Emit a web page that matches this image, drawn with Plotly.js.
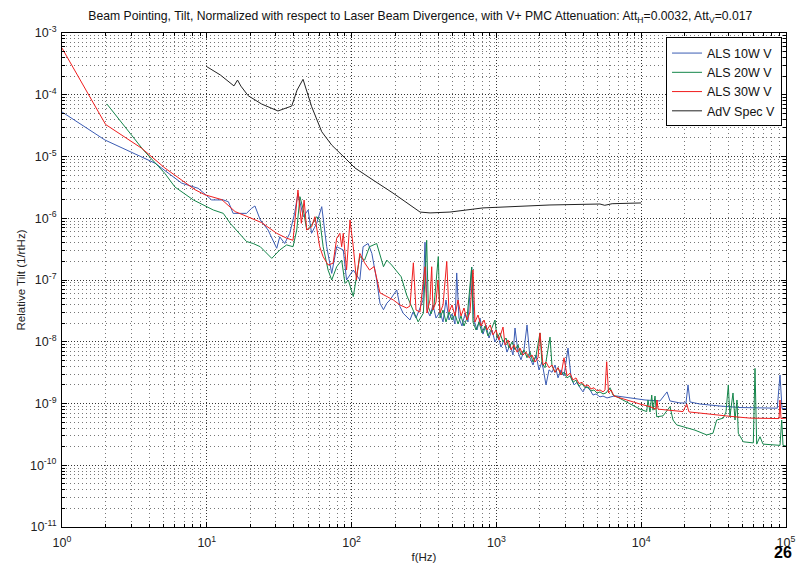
<!DOCTYPE html>
<html><head><meta charset="utf-8">
<script src="https://cdn.plot.ly/plotly-3.0.1.min.js"></script>
<style>html,body{margin:0;padding:0;background:#fff;} #chart{width:796px;height:563px;}</style>
</head><body><div id="chart"></div>
<script>
// ALS 10W V (blue)
const als10F = [1, 1.98, 4.39, 6.71, 8.73, 10.8, 13.0, 14.1, 15.2, 18.8, 20.4, 21.5, 23.4, 26.5, 30.4, 31.9, 34.5, 37.4, 40.4, 42.6, 46.4, 50.1, 52.9, 57.4, 62.2, 67.3, 72.9, 78.9, 87.6, 92.3, 102.7, 114, 120, 130, 138, 149, 157, 166, 175, 184, 205, 216, 227, 253,
  265.5, 278.5, 296.8, 311.3, 321.3, 331.7, 347.8, 364.9, 382.7, 407.9, 427.9, 448.6, 470.7, 493.6, 517.7, 531.9, 551.6, 578.6, 606.8, 636.7, 675.2, 700.4, 734.5, 770.2, 808, 847.5, 888.9, 932.4, 977.9, 1026, 1076, 1129, 1184, 1241, 1302, 1344, 1410, 1479, 1551, 1627, 1706, 1790, 1877, 1969, 2065, 2201, 2309, 2421, 2540, 2664, 2794, 2931, 3123, 3276, 3435, 3603, 3779, 3964, 4158, 4431, 4647, 4874, 5194, 5448, 5805, 6088, 6490,
  6807, 8370, 10620, 13490, 15080, 15810, 18530, 20390, 21050, 21730, 25480, 35010, 48120, 66120, 87000, 90920, 93850, 100000];
const als10V = [5.26e-5, 1.85e-5, 7.8e-6, 3.7e-6, 3.05e-6, 1.98e-6, 1.98e-6, 1.85e-6, 1.2e-6, 1.2e-6, 1.45e-6, 1.58e-6, 9.4e-7, 6.45e-7, 3.26e-7, 5.0e-7, 3.9e-7, 5.7e-7, 1.2e-6, 2.54e-6, 1.06e-6, 1.36e-6, 5.7e-7, 8.3e-7, 1.54e-6, 3.46e-7, 1.28e-7, 3.46e-7, 3.06e-7, 1.0e-7, 1.45e-7, 1.0e-7, 3.46e-7, 3.9e-7, 2.7e-7, 1.0e-7, 4.2e-8, 3.3e-8, 4.2e-8, 4.75e-8, 6.9e-8, 3.7e-8, 2.9e-8, 2.25e-8,
  3.03e-8, 2.42e-8, 3.52e-8, 4.75e-8, 4.1e-7, 3.27e-8, 2.61e-8, 3.94e-8, 2.42e-8, 3.03e-8, 2.09e-8, 4.75e-8, 2.25e-8, 2.82e-8, 1.94e-8, 1.3e-7, 2.42e-8, 1.8e-8, 2.82e-8, 2.09e-8, 1.62e-7, 2.25e-8, 1.55e-8, 2.42e-8, 1.33e-8, 1.87e-8, 1.15e-8, 1.55e-8, 0.99e-8, 1.24e-8, 8.2e-9, 1.07e-8, 6.8e-9, 8.9e-9, 6.1e-9, 1.67e-8, 6.8e-9, 5.1e-9, 7.4e-9, 1.87e-8, 5.5e-9, 4.2e-9, 6.1e-9, 3.5e-9, 4.7e-9, 2.0e-9, 3.5e-9, 3.2e-9, 4.2e-9, 2.6e-9, 3.5e-9, 2.8e-9, 7.9e-9, 2.7e-9, 2.0e-9, 2.2e-9, 1.8e-9, 1.54e-9, 1.9e-9, 1.66e-9, 1.37e-9, 1.43e-9, 1.28e-9, 1.32e-9, 1.23e-9, 1.28e-9, 1.32e-9,
  1.32e-9, 1.23e-9, 1.14e-9, 1.10e-9, 1.54e-9, 1.10e-9, 1.02e-9, 1.02e-9, 2.0e-9, 1.06e-9, 9.8e-10, 9.1e-10, 8.6e-10, 8.5e-10, 8.4e-10, 2.9e-9, 8.3e-10, 8.3e-10];

// ALS 20W V (green)
const als20F = [2.04, 3.64, 5.14, 6.03, 8.07, 11.1, 13.0, 14.5, 18.8, 20.9, 23.4, 28.1, 31.9, 35.6, 39.4, 41.8, 44.0, 46.4, 49.0, 52.9, 57.4, 60.3, 63.6, 68.8, 72.9, 78.9, 85.4, 90.0, 94.9, 102.7, 114, 123, 133, 149, 166, 175, 189, 205, 220, 240, 267, 288, 313,
  330, 338.7, 353.5, 370.8, 397, 407.9, 427.9, 448.6, 470.7, 493.6, 517.7, 543, 569.5, 597.5, 626.6, 675.2, 689.3, 723.1, 758.5, 795.5, 834.2, 875, 917.8, 977.9, 1010, 1059, 1111, 1165, 1222, 1281, 1344, 1410, 1479, 1551, 1627, 1706, 1790, 1877, 2000, 2065, 2166, 2346, 2421, 2540, 2664, 2794, 2931, 3074, 3225, 3381, 3545, 3718, 3901, 4092, 4292, 4501, 4721, 4953, 5194, 5448, 5713, 6088, 6387, 6807,
  8370, 9810, 10910, 11140, 11500, 11820, 12070, 12460, 12800, 14150, 15810, 16590, 17590, 19440, 23530, 28340, 31320, 33220, 36900, 38510, 39960, 41000, 43050, 44440, 45870, 46840, 50720, 59470, 61090, 62760, 66120, 69370, 90920, 93390, 95350, 100000];
const als20V = [7.1e-5, 1.28e-5, 5.3e-6, 3.2e-6, 1.98e-6, 1.36e-6, 1.2e-6, 8.3e-7, 4.2e-7, 3.9e-7, 3.46e-7, 2.24e-7, 3.06e-7, 3.7e-7, 3.46e-7, 6.45e-7, 2.23e-6, 1.36e-6, 6.45e-7, 7.8e-7, 1.06e-6, 9.4e-7, 3.46e-7, 1.45e-7, 1.0e-7, 1.64e-7, 2.1e-7, 8.8e-8, 1.0e-7, 5.4e-8, 2.4e-7, 2.1e-7, 3.46e-7, 3.9e-7, 1.64e-7, 2.1e-7, 1.75e-7, 1.36e-7, 1.13e-7, 5.7e-8, 3.27e-8, 2.1e-8, 2.9e-8,
  4.4e-7, 3.7e-8, 2.82e-8, 3.79e-8, 2.4e-7, 2.42e-8, 3.27e-8, 2.09e-8, 3.03e-8, 2.25e-8, 2.82e-8, 1.94e-8, 2.61e-8, 1.8e-8, 2.42e-8, 1.62e-7, 2.09e-8, 1.55e-8, 2.09e-8, 1.39e-8, 1.8e-8, 1.24e-8, 1.55e-8, 2.25e-8, 1.15e-8, 1.39e-8, 0.99e-8, 1.15e-8, 7.9e-9, 0.99e-8, 7.4e-9, 8.9e-9, 6.1e-9, 7.4e-9, 5.5e-9, 6.8e-9, 4.7e-9, 5.9e-9, 1.39e-8, 4.5e-9, 3.8e-9, 1.19e-8, 4.05e-9, 3.2e-9, 3.8e-9, 2.9e-9, 3.2e-9, 2.6e-9, 2.8e-9, 2.2e-9, 2.4e-9, 1.9e-9, 2.1e-9, 1.8e-9, 1.85e-9, 1.6e-9, 1.66e-9, 1.48e-9, 1.54e-9, 1.43e-9, 1.48e-9, 1.8e-9, 1.37e-9, 1.28e-9,
  9.8e-10, 8.1e-10, 7.4e-10, 1.14e-9, 7.3e-10, 1.37e-9, 7.8e-10, 1.32e-9, 6.1e-10, 6.3e-10, 8.9e-10, 5.4e-10, 4.5e-10, 4.2e-10, 3.7e-10, 3.1e-10, 3.3e-10, 5.4e-10, 5.8e-10, 7.3e-10, 2.0e-9, 6.1e-10, 1.48e-9, 5.4e-10, 1.14e-9, 3.3e-10, 2.4e-10, 2.3e-10, 3.7e-9, 2.2e-10, 2.9e-10, 2.2e-10, 2.1e-10, 5.4e-10, 2.1e-10, 2.05e-10];

// ALS 30W V (red)
const als30F = [1, 2, 3.55, 5.14, 8.29, 9.7, 12.7, 15.7, 19.3, 23.9, 30.4, 35.6, 39.4, 42.6, 45, 47, 49, 53, 55.8, 60.2, 63.5, 68.8, 74.5, 78.9, 83, 85.4, 87.6, 92.3, 97.5, 102.7, 108, 114, 123, 133, 143, 157, 175, 194,
  216, 240, 253, 267, 278.5, 296.8, 306.4, 321.3, 331.7, 347.8, 357.5, 364.9, 382.7, 395.1, 407.9, 427.9, 454, 470.7, 493.6, 517.7, 543, 569.5, 597.5, 626.6, 657.3, 689.3, 711.7, 746.4, 782.9, 821.2, 861.2, 906, 947.3, 993.6, 1042, 1111, 1147, 1203, 1261, 1323, 1388, 1455, 1526, 1601, 1679, 1762, 1848, 1938, 2000, 2098, 2201, 2309, 2421, 2540, 2664, 2794, 2931, 3074, 3225, 3381, 3545, 3718, 3901, 4092, 4292, 4501, 4721, 4953, 5194, 5448, 5623, 5777, 5945, 6186, 6490, 6807,
  8370, 9810, 11500, 12660, 12860, 13070, 15810, 19440, 20620, 21380, 25480, 33220, 41000, 56400, 77500, 89490, 90920, 92380, 100000];
const als30V = [5.7e-4, 3.3e-5, 1.36e-5, 6.5e-6, 2.9e-6, 2.4e-6, 2.0e-6, 1.28e-6, 1.05e-6, 8.5e-7, 5.7e-7, 4.75e-7, 4.4e-7, 2.87e-6, 8.3e-7, 1.97e-6, 6.45e-7, 7.3e-7, 1.06e-6, 3.46e-7, 2.4e-7, 1.75e-7, 1.87e-7, 4.75e-7, 5.7e-7, 3.46e-7, 5.7e-7, 1.45e-7, 9.4e-7, 3.46e-7, 1.0e-7, 2.7e-7, 1.9e-7, 1.45e-7, 1.65e-7, 6.2e-8, 5.4e-8, 4.75e-8,
  3.94e-8, 3.52e-8, 3.79e-8, 1.9e-7, 3.27e-8, 3.03e-8, 6.2e-8, 1.64e-7, 2.92e-8, 4.75e-8, 1.64e-7, 3.27e-8, 4.4e-8, 1.0e-7, 2.92e-8, 3.94e-8, 2.0e-7, 3.03e-8, 3.94e-8, 2.61e-8, 4.75e-8, 2.61e-8, 3.52e-8, 2.25e-8, 3.03e-8, 1.45e-7, 2.09e-8, 2.71e-8, 1.8e-8, 2.25e-8, 1.55e-8, 1.87e-8, 1.29e-8, 1.55e-8, 1.07e-8, 1.73e-8, 8.9e-9, 1.07e-8, 7.4e-9, 8.9e-9, 6.8e-9, 7.9e-9, 6.1e-9, 6.8e-9, 5.5e-9, 6.1e-9, 4.7e-9, 5.5e-9, 1.39e-8, 4.2e-9, 4.7e-9, 3.8e-9, 4.2e-9, 3.2e-9, 3.8e-9, 2.9e-9, 5.5e-9, 2.8e-9, 3.1e-9, 2.4e-9, 2.6e-9, 2.1e-9, 2.2e-9, 1.9e-9, 2.0e-9, 1.72e-9, 1.8e-9, 1.6e-9, 1.66e-9, 1.54e-9, 1.66e-9, 4.75e-9, 1.48e-9, 1.66e-9, 1.32e-9, 1.28e-9,
  1.10e-9, 9.8e-10, 8.9e-10, 8.1e-10, 1.14e-9, 8.1e-10, 7.8e-10, 7.4e-10, 9.8e-10, 7.3e-10, 7.0e-10, 6.5e-10, 6.2e-10, 5.8e-10, 5.7e-10, 5.7e-10, 1.14e-9, 5.7e-10, 5.8e-10];

// AdV Spec V (black)
const advF = [10, 12.4, 15.4, 16.3, 17.2, 19.3, 23.9, 31, 38.6, 42, 46.2, 53, 62.2, 72.9, 90, 105.5, 140.6, 193, 297, 348, 478, 808, 2344, 5190, 5600, 6300, 10000];
const advV = [2.85e-4, 2.09e-4, 1.39e-4, 1.73e-4, 1.38e-4, 9.66e-5, 7.08e-5, 5.46e-5, 6.57e-5, 1.19e-4, 1.78e-4, 6.4e-5, 2.52e-5, 1.53e-5, 9.46e-6, 6.52e-6, 4.16e-6, 2.56e-6, 1.26e-6, 1.22e-6, 1.26e-6, 1.47e-6, 1.64e-6, 1.7e-6, 1.62e-6, 1.72e-6, 1.77e-6];

const seriesNames = ['ALS 10W V', 'ALS 20W V', 'ALS 30W V', 'AdV Spec V'];
const xTickVals = [1, 10, 100, 1000, 10000, 100000];
const xTickText = ['10<sup>0</sup>', '10<sup>1</sup>', '10<sup>2</sup>', '10<sup>3</sup>', '10<sup>4</sup>', '10<sup>5</sup>'];
const yTickVals = [1e-11, 1e-10, 1e-9, 1e-8, 1e-7, 1e-6, 1e-5, 1e-4, 1e-3];
const yTickText = ['10<sup>-11</sup>', '10<sup>-10</sup>', '10<sup>-9</sup>', '10<sup>-8</sup>', '10<sup>-7</sup>', '10<sup>-6</sup>', '10<sup>-5</sup>', '10<sup>-4</sup>', '10<sup>-3</sup>'];

function minorVals(decades) {
  const out = [];
  decades.forEach(d => { for (let m = 2; m <= 9; m++) out.push(m * d); });
  return out;
}

const FONT = 'Liberation Sans, Arial, Helvetica, sans-serif';
const colors = ['#3b5cb4', '#14864a', '#f01e1e', '#222222'];

const traces = [
  {x: als10F, y: als10V, name: seriesNames[0], line: {color: colors[0], width: 1}},
  {x: als20F, y: als20V, name: seriesNames[1], line: {color: colors[1], width: 1}},
  {x: als30F, y: als30V, name: seriesNames[2], line: {color: colors[2], width: 1}},
  {x: advF, y: advV, name: seriesNames[3], line: {color: colors[3], width: 1}}
].map(t => Object.assign({type: 'scatter', mode: 'lines'}, t));

function axis(vals, text, range, minor, title, standoff) {
  return {
    type: 'log', range: range, autorange: false,
    tickmode: 'array', tickvals: vals, ticktext: text,
    showline: true, linecolor: '#000', linewidth: 1, mirror: 'allticks',
    ticks: 'inside', ticklen: 5, tickcolor: '#000', tickwidth: 1,
    ticklabelstandoff: standoff,
    showgrid: true, gridcolor: '#333', griddash: '1px,2px', gridwidth: 1,
    zeroline: false,
    tickfont: {family: FONT, size: 12.5, color: '#222'},
    minor: {tickmode: 'array', tickvals: minor, ticks: 'inside', ticklen: 3, tickcolor: '#000',
            showgrid: true, gridcolor: '#777', griddash: '1px,3px', gridwidth: 1},
    title: title
  };
}

const layout = {
  width: 796, height: 563,
  margin: {l: 62, r: 10, t: 33, b: 36},
  paper_bgcolor: '#fff', plot_bgcolor: '#fff',
  font: {family: FONT, size: 11, color: '#222'},
  title: {text: 'Beam Pointing, Tilt, Normalized with respect to Laser Beam Divergence, with V+ PMC Attenuation: Att<sub>H</sub>=0.0032, Att<sub>V</sub>=0.017',
          x: 0.528, xanchor: 'center', y: 0.972, yanchor: 'middle', font: {family: FONT, size: 12.2, color: '#111'}},
  xaxis: axis(xTickVals, xTickText, [0, 5], minorVals([1, 10, 100, 1000, 10000]),
              {text: 'f(Hz)', font: {family: FONT, size: 11.5, color: '#222'}, standoff: 6}, 4),
  yaxis: axis(yTickVals, yTickText, [-11, -3], minorVals([1e-11, 1e-10, 1e-9, 1e-8, 1e-7, 1e-6, 1e-5, 1e-4]),
              {text: 'Relative Tilt (1/rtHz)', font: {family: FONT, size: 11.5, color: '#222'}, standoff: 1}, 2),
  showlegend: true,
  legend: {x: 0.9945, y: 0.991, xanchor: 'right', yanchor: 'top', bgcolor: '#fff',
           bordercolor: '#000', borderwidth: 1, font: {family: FONT, size: 12.5, color: '#111'},
           tracegroupgap: 0},
  annotations: [{text: '<b>26</b>', xref: 'paper', yref: 'paper', x: 0.9965, y: -0.0526,
                 xanchor: 'center', yanchor: 'middle', showarrow: false,
                 font: {family: FONT, size: 16, color: '#000'}}]
};

Plotly.newPlot('chart', traces, layout, {displayModeBar: false, staticPlot: true});
</script>
</body></html>
